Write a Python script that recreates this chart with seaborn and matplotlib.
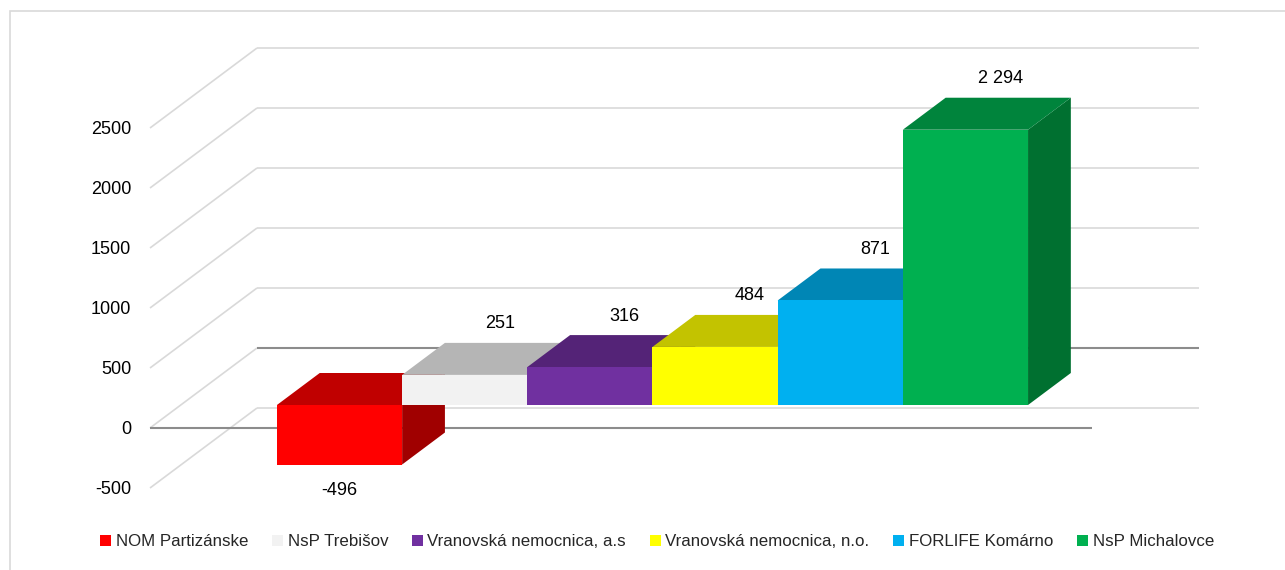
import numpy as np
import pandas as pd
import matplotlib
matplotlib.use("Agg")
import matplotlib.pyplot as plt
import seaborn as sns
from matplotlib.patches import Polygon, Rectangle

# ---- data ----
hospitals = ["NOM Partizánske", "NsP Trebišov", "Vranovská nemocnica, a.s",
             "Vranovská nemocnica, n.o.", "FORLIFE Komárno", "NsP Michalovce"]
values = [-496, 251, 316, 484, 871, 2294]
yticks = [-500, 0, 500, 1000, 1500, 2000, 2500]

# ---- styles ----
front_colors = ["#ff0000", "#f2f2f2", "#7030a0", "#ffff00", "#00b0f0", "#00b050"]
top_colors = ["#c00000", "#b5b5b5", "#542377", "#c3c300", "#0086b5", "#00843c"]
side_colors = ["#a00000", "#a6a6a6", "#4a1e6b", "#a8a800", "#00729a", "#007030"]
GRID = "#d9d9d9"
AXIS = "#8c8c8c"

sns.set_style("white")
plt.rcParams["font.family"] = ["Liberation Sans", "DejaVu Sans"]

W, H, DPI = 1285, 570, 100
fig = plt.figure(figsize=(W / DPI, H / DPI), dpi=DPI)
ax = fig.add_axes([150 / W, (H - 488) / H, (1092 - 150) / W, (488 - 128) / H])
ax.set_facecolor("none")

df = pd.DataFrame({"nemocnica": hospitals, "hodnota": values})
sns.barplot(data=df, x="nemocnica", y="hodnota", hue="nemocnica",
            palette=front_colors, width=1.0, dodge=False, saturation=1,
            linewidth=0, ax=ax, legend=True)

ax.set_xlim(-1.268, 6.257)
ax.set_ylim(-500, 2500)
for s in ax.spines.values():
    s.set_visible(False)
ax.set_xticks([])
ax.set_xlabel("")
ax.set_ylabel("")
ax.set_yticks(yticks)
ax.set_yticklabels([str(t) for t in yticks])
ax.tick_params(axis="y", length=0, pad=13.5, labelsize=13, colors="#000000")

# pixel -> data conversion
p0 = ax.transData.transform((0, 0))
px_x = ax.transData.transform((1, 0))[0] - p0[0]
px_y = ax.transData.transform((0, 1))[1] - p0[1]
def dx(px):
    return px / px_x
def dy(px):
    return px / px_y

# depth offsets (pixels)
WALL = (107, 80)     # front plane -> back wall
FRONT = (30.8, 23)   # front plane -> bar front faces
DEPTH = (42.8, 32)   # bar front -> bar back

xl, xr = ax.get_xlim()
# gridlines: diagonals on the left side wall + back wall lines
for t in yticks:
    ax.plot([xl, xl + dx(WALL[0])], [t, t + dy(WALL[1])], color=GRID, lw=1.2,
            zorder=1, clip_on=False, solid_capstyle="butt")
    ax.plot([xl + dx(WALL[0]), xr + dx(WALL[0])], [t + dy(WALL[1])] * 2,
            color=(AXIS if t == 0 else GRID), lw=(1.5 if t == 0 else 1.2),
            zorder=1, clip_on=False, solid_capstyle="butt")
# front floor edge at 0
ax.plot([xl, xr], [0, 0], color=AXIS, lw=1.5, zorder=1.5, clip_on=False,
        solid_capstyle="butt")

# bars: shift seaborn's front faces into the bar plane and add top/side faces
fdx, fdy = dx(FRONT[0]), dy(FRONT[1])
ddx, ddy = dx(DEPTH[0]), dy(DEPTH[1])
bars = [p for p in ax.patches if isinstance(p, Rectangle) and p.get_width() > 0]
bars = sorted(bars, key=lambda p: p.get_x())
for i, (p, v) in enumerate(zip(bars, values)):
    z = 3 + i * 0.1
    x0 = p.get_x() + fdx
    x1 = x0 + p.get_width()
    top = max(v, 0) + fdy
    bot = min(v, 0) + fdy
    # side face
    side = Polygon([(x1, bot), (x1 + ddx, bot + ddy), (x1 + ddx, top + ddy), (x1, top)],
                   closed=True, facecolor=side_colors[i], edgecolor="none",
                   zorder=z, clip_on=False)
    ax.add_patch(side)
    # top face
    tp = Polygon([(x0, top), (x1, top), (x1 + ddx, top + ddy), (x0 + ddx, top + ddy)],
                 closed=True, facecolor=top_colors[i], edgecolor="none",
                 zorder=z + 0.01, clip_on=False)
    ax.add_patch(tp)
    # front face (seaborn bar)
    p.set_x(x0)
    p.set_y(p.get_y() + fdy)
    p.set_zorder(z + 0.02)
    p.set_clip_on(False)
    p.set_edgecolor("none")

    label = f"{v:,}".replace(",", " ")
    cx = (x0 + x1) / 2
    if v >= 0:
        ax.text(cx + dx(35), top + ddy + dy(19), label, ha="center", va="center",
                fontsize=13, color="#000000", zorder=10)
    else:
        ax.text(cx, bot - dy(26), label, ha="center", va="center",
                fontsize=13, color="#000000", zorder=10)

# legend
handles, labels = ax.get_legend_handles_labels()
if ax.get_legend() is not None:
    ax.get_legend().remove()
fig.legend(handles, labels, loc="center", bbox_to_anchor=(657 / W, 1 - 542 / H),
           ncol=6, frameon=False, fontsize=12.2, handlelength=0.65,
           handleheight=0.65, handletextpad=0.27, columnspacing=1.4,
           borderaxespad=0, borderpad=0)

# chart frame (left and top edges visible)
fig.add_artist(Rectangle((10 / W, -0.1), 1.2, (H - 11) / H + 0.1,
                         transform=fig.transFigure, facecolor="none",
                         edgecolor=GRID, lw=1.2, zorder=0))

fig.savefig("out.png", dpi=DPI)
